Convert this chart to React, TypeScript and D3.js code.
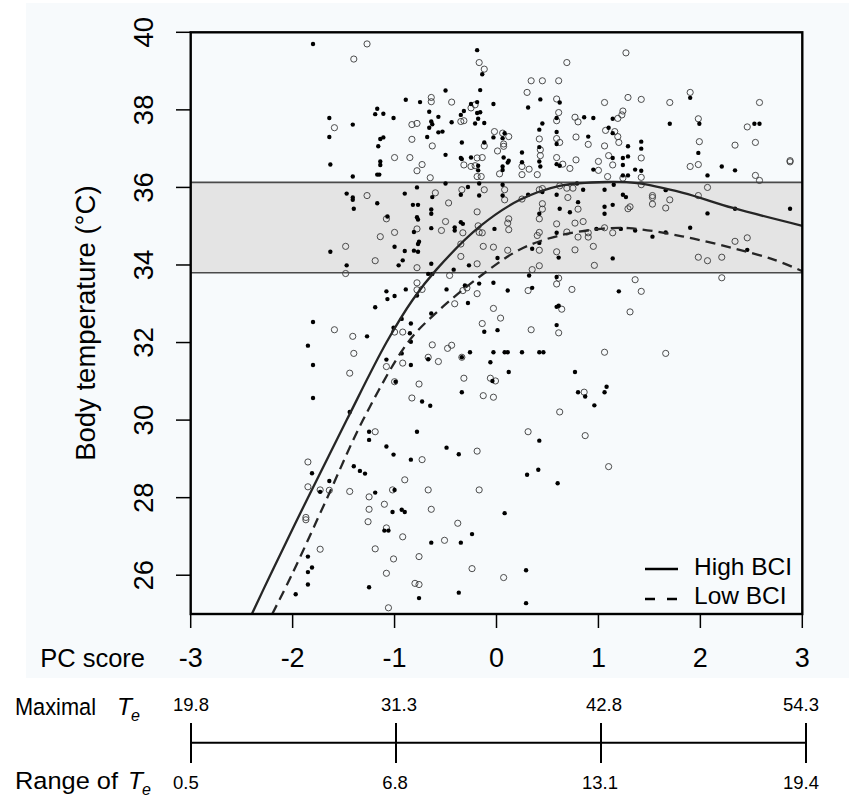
import React from 'react';
import * as d3 from 'd3';

const xTicks = [-3, -2, -1, 0, 1, 2, 3];
const yTicks = [26, 28, 30, 32, 34, 36, 38, 40];
const maximalTe = [19.8, 31.3, 42.8, 54.3];
const rangeTe = [0.5, 6.8, 13.1, 19.4];
const comfortBand = [33.8, 36.13];

const highPc = [-2.4, -2.22, -1.85, -1.47, -1.08, -0.82, -0.59, -0.16, 0.23, 0.62, 1.08, 1.38, 1.83, 2.32, 3.0];
const highTemp = [25.0, 26.0, 28.0, 30.0, 32.0, 33.11, 33.88, 35.0, 35.68, 36.04, 36.14, 36.11, 35.86, 35.47, 35.01];
const lowPc = [-2.2, -2.01, -1.66, -1.31, -0.87, -0.59, -0.16, 0.23, 0.59, 1.02, 1.3, 1.82, 2.31, 2.72, 3.0];
const lowTemp = [25.0, 26.0, 28.0, 30.0, 32.0, 32.77, 33.71, 34.4, 34.74, 34.93, 34.95, 34.74, 34.44, 34.14, 33.84];

const filledPoints: [number, number][] = [
  [-1.80,39.70],[-0.89,38.26],[-0.75,38.20],[-1.17,38.03],[-1.19,37.89],[-1.11,37.90],[-1.01,37.79],[-1.64,37.79],[-0.66,37.95],[-0.57,37.82],[-0.64,37.70],[-0.63,37.63],[-0.66,37.54],[-1.41,37.62],[-1.64,37.30],[-1.14,37.25],[-1.11,37.29],[-0.68,37.30],[-0.57,37.42],[-1.16,37.06],[-1.63,36.59],[-1.14,36.67],[-1.14,36.58],[-1.17,36.33],[-1.15,36.33],[-1.41,36.28],
  [-0.19,39.54],[-0.14,38.92],[-0.50,38.50],[-0.16,38.51],[0.43,38.27],[0.62,38.19],[-0.25,38.15],[-0.19,38.20],[-0.03,38.15],[0.31,38.06],[-0.32,37.97],[-0.35,37.87],[-0.19,37.92],[-0.16,37.94],[-0.44,37.68],[-0.21,37.65],[-0.18,37.77],[-0.12,37.66],[0.45,37.65],[0.59,37.79],[0.86,37.81],[0.95,37.79],[1.14,37.77],[-0.53,37.44],[0.42,37.49],[0.08,37.40],[-0.03,37.29],[0.06,37.27],[0.59,37.43],[1.10,37.54],[1.14,37.40],[0.90,37.31],[0.59,37.12],[-0.34,37.16],[-0.12,37.16],[1.29,37.06],[0.42,37.04],[-0.50,36.84],[-0.35,36.76],[-0.34,36.73],[-0.25,36.77],[0.07,36.77],[0.12,36.69],[0.11,36.64],[0.25,36.90],[0.42,36.67],[0.59,36.60],[0.62,36.56],[1.14,36.76],[1.24,36.76],[1.29,36.80],[1.24,36.58],[-0.18,36.56],[-0.18,36.44],[0.06,36.54],[0.06,36.45],[0.25,36.65],[0.43,36.54],[0.95,36.46],[1.24,36.31],[1.29,36.31],
  [1.90,38.31],[1.70,37.64],[1.99,37.64],[2.53,37.64],[2.58,37.64],[1.42,37.18],[1.42,37.00],[1.98,36.89],[2.21,36.54],[2.34,36.44],[2.07,36.31],[1.36,36.46],[1.42,36.43],[1.66,35.93],[2.07,35.33],[2.34,35.45],[2.88,35.45],[1.36,34.89],[1.53,34.73],[1.66,34.84],[1.90,34.96],[2.46,34.39],
  [-0.78,36.00],[-1.47,35.84],[-1.41,35.74],[-1.41,35.68],[-0.90,35.84],[-0.63,35.75],[-1.17,35.59],[-0.82,35.55],[-0.77,35.55],[-1.40,35.45],[-0.64,35.43],[-0.64,35.32],[-1.07,35.25],[-0.78,35.23],[-0.77,35.17],[-0.64,34.95],[-0.81,34.85],[-0.76,34.60],[-0.77,34.54],[-1.00,34.47],[-1.63,34.34],[-0.90,34.36],[-0.81,34.37],[-0.77,34.34],[-0.92,34.12],[-0.96,33.99],[-1.47,33.99],[-0.64,34.03],[-0.67,33.77],[-0.63,33.77],[-0.89,33.37],[-1.08,33.32],[-1.00,33.20],[-1.07,33.12],[-0.78,33.21],[-1.19,32.91],[-0.64,32.75],[-1.80,32.53],[-0.93,32.61],[-0.84,32.49],[-1.01,32.38],[-0.85,32.24],[-1.27,32.16],[-0.84,32.02],[-1.85,31.92],
  [-0.50,36.10],[-0.28,36.01],[-0.17,36.10],[-0.35,35.81],[-0.17,35.79],[0.06,36.07],[0.06,35.79],[0.31,35.81],[0.45,35.88],[0.79,36.10],[0.85,35.94],[1.06,35.94],[1.15,36.07],[1.24,35.81],[1.27,35.75],[0.59,35.81],[0.80,35.62],[0.62,35.45],[0.72,35.36],[1.06,35.50],[1.14,35.55],[1.06,35.32],[0.42,35.32],[-0.35,35.10],[-0.33,35.06],[-0.41,34.97],[-0.41,34.89],[-0.02,34.93],[0.59,34.83],[0.98,34.93],[1.22,34.93],[0.35,34.42],[0.42,34.57],[0.61,34.19],[1.14,34.17],[0.01,34.18],[-0.27,33.99],[-0.42,33.88],[0.32,33.73],[0.59,33.69],[-0.17,33.52],[-0.03,33.54],[-0.49,33.37],[-0.31,33.47],[0.11,33.34],[0.35,33.41],[1.20,33.32],[-0.28,33.02],[0.59,32.92],[0.61,32.95],[-0.12,32.28],[0.01,32.32],[0.59,32.45],
  [-1.80,31.42],[-1.80,30.57],[-1.44,30.21],[-1.08,31.56],[-0.84,31.42],[-0.93,31.72],[-0.99,30.99],[-0.73,30.48],[-0.65,30.37],[-0.67,31.57],[-1.25,29.70],[-1.25,29.49],[-1.08,29.32],[-1.01,29.11],[-0.78,29.70],[-0.84,28.98],[-0.49,29.29],[-1.81,28.63],[-1.64,28.43],[-1.73,28.15],[-1.40,28.81],[-1.34,28.69],[-1.29,28.62],[-1.19,28.13],[-1.00,28.20],[-1.02,27.63],[-0.93,27.69],[-0.90,27.63],[-1.10,27.15],[-1.06,27.15],[-0.64,26.84],[-0.76,25.41],[-1.25,25.69],[-1.85,26.48],[-1.81,26.20],[-1.85,26.08],[-1.85,25.76],[-1.97,25.51],
  [-0.26,31.75],[-0.34,31.62],[-0.03,31.75],[0.08,31.75],[0.11,31.75],[0.25,31.75],[0.42,31.75],[0.46,31.75],[-0.06,31.49],[0.12,31.24],[0.77,31.24],[-0.04,31.01],[-0.34,30.72],[0.80,30.72],[0.87,30.61],[1.08,30.86],[1.06,30.72],[0.96,30.38],[0.42,29.47],[-0.37,29.12],[0.30,28.59],[0.41,28.72],[0.60,28.37],[0.08,27.60],[-0.24,27.06],[-0.35,26.84],[0.29,26.13],[-0.37,25.55],[0.29,25.28],
];

const openPoints: [number, number][] = [
  [-1.27,39.70],[-1.40,39.31],[-0.64,38.32],[-0.64,38.21],[-0.83,37.62],[-0.78,37.65],[-1.59,37.54],[-0.83,37.24],[-0.63,37.07],[-1.00,36.77],[-0.85,36.77],[-0.73,36.59],[-0.78,36.43],[-0.65,36.25],
  [-0.17,39.22],[-0.12,39.05],[1.27,39.47],[0.69,39.22],[0.34,38.75],[0.45,38.75],[0.61,38.75],[0.30,38.45],[0.59,38.28],[-0.44,38.20],[-0.25,38.05],[-0.21,38.13],[1.06,38.19],[1.29,38.32],[0.61,37.93],[1.24,37.97],[1.23,37.87],[-0.35,37.70],[-0.32,37.72],[0.59,37.72],[0.77,37.81],[0.80,37.69],[1.19,37.78],[-0.02,37.44],[0.06,37.40],[0.12,37.31],[1.07,37.47],[1.16,37.44],[1.19,37.31],[0.78,37.30],[0.42,37.25],[0.59,37.26],[0.62,37.16],[-0.12,37.07],[0.07,37.12],[0.07,37.06],[0.90,37.11],[1.20,37.16],[1.06,37.07],[0.43,36.97],[0.01,36.94],[-0.19,36.76],[-0.14,36.77],[0.43,36.82],[0.59,36.77],[0.65,36.60],[0.78,36.71],[1.10,36.82],[1.14,36.58],[1.00,36.67],[-0.32,36.58],[-0.25,36.54],[-0.21,36.56],[-0.19,36.28],[-0.15,36.28],[0.03,36.35],[0.25,36.54],[0.32,36.47],[0.25,36.33],[0.40,36.33],[0.72,36.49],[1.00,36.44],[1.09,36.28],[1.24,36.24],
  [1.42,38.27],[1.70,38.19],[1.90,38.45],[2.58,38.19],[1.98,37.77],[2.46,37.56],[1.42,36.76],[1.99,37.18],[2.34,37.09],[2.54,37.16],[1.90,36.54],[1.98,36.59],[2.88,36.69],[2.88,36.66],[1.42,36.26],[2.54,36.31],[2.58,36.18],[1.42,36.07],[2.07,36.00],[1.53,35.79],[1.53,35.74],[1.53,35.57],[1.70,35.68],[1.66,35.47],[1.98,35.79],[1.31,35.50],[2.34,34.61],[2.46,34.70],[1.98,34.20],[2.07,34.11],[2.21,34.20],[2.21,33.67],[1.36,33.62],[1.42,33.32],[1.31,32.79],
  [-1.27,35.79],[-0.60,35.86],[-1.08,35.19],[-0.78,34.93],[-1.00,34.84],[-1.14,34.73],[-1.48,34.48],[-1.19,34.11],[-0.78,33.93],[-1.48,33.78],[-0.78,33.54],[-0.78,33.36],[-0.73,33.37],[-1.00,32.27],[-0.92,32.27],[-1.59,32.33],[-1.41,32.16],[-0.63,31.94],
  [-0.34,35.94],[-0.12,35.94],[0.08,35.94],[0.08,35.68],[0.42,35.94],[0.45,35.97],[0.62,36.04],[0.69,35.98],[0.75,35.98],[1.29,35.45],[-0.47,35.60],[0.25,35.70],[0.70,35.74],[0.45,35.58],[0.45,35.44],[0.80,35.44],[-0.19,35.37],[0.42,35.19],[0.12,35.19],[0.11,35.08],[-0.50,35.12],[0.59,35.06],[0.77,35.08],[0.85,35.12],[-0.18,35.01],[-0.54,34.89],[-0.33,34.83],[0.12,34.91],[-0.17,34.84],[-0.14,34.83],[0.42,34.84],[0.40,34.76],[0.69,34.85],[0.90,34.83],[0.90,34.72],[0.80,34.72],[1.14,34.83],[1.06,34.96],[-0.35,34.54],[-0.13,34.48],[-0.03,34.46],[0.11,34.38],[0.42,34.38],[0.59,34.34],[0.77,34.39],[0.95,34.48],[-0.35,34.22],[-0.19,34.03],[0.35,33.88],[0.42,33.98],[0.96,33.99],[-0.46,33.73],[0.61,33.66],[0.59,33.51],[-0.33,33.34],[-0.29,33.41],[0.31,33.34],[0.74,33.37],[-0.19,33.26],[-0.41,33.00],[-0.03,32.88],[0.64,32.86],[0.04,32.63],[-0.14,32.49],[0.34,32.33],[0.61,32.25],[-0.44,31.93],[-0.48,31.85],
  [-1.40,31.72],[-1.44,31.21],[-1.08,31.38],[-0.92,31.47],[-1.00,30.99],[-0.76,30.93],[-0.83,30.57],[-0.67,31.62],[-0.57,31.51],[-1.19,29.70],[-0.73,28.98],[-1.85,28.92],[-1.85,28.28],[-1.73,28.20],[-1.64,28.19],[-1.44,28.16],[-1.25,28.02],[-1.25,27.70],[-1.26,27.38],[-1.19,26.68],[-1.10,27.83],[-1.02,28.20],[-0.90,28.46],[-0.67,28.20],[-0.64,27.70],[-1.08,27.22],[-0.92,26.99],[-0.51,26.90],[-1.01,26.42],[-0.76,26.48],[-1.08,26.05],[-0.80,25.79],[-0.76,25.76],[-1.06,25.16],[-1.87,27.49],[-1.87,27.43],[-1.73,26.67],
  [-0.34,31.62],[1.06,31.75],[1.66,31.72],[-0.32,31.08],[-0.06,31.08],[-0.01,31.01],[-0.13,30.63],[-0.03,30.59],[0.86,30.72],[0.62,30.21],[0.31,29.70],[0.87,29.60],[-0.19,29.20],[1.10,28.80],[-0.17,28.20],[-0.38,27.34],[-0.24,26.17],[0.07,25.94],
];

const FONT = '"Liberation Sans", Arial, Helvetica, sans-serif';

export default function App() {
  const W = 849, H = 799;
  const L = 190.7, R = 802.3, T = 32.3, B = 614;
  const x = d3.scaleLinear().domain([-3, 3]).range([L, R]);
  const y = d3.scaleLinear().domain([25, 40]).range([B, T]);
  const xMax = d3.scaleLinear().domain([maximalTe[0], maximalTe[maximalTe.length - 1]]).range([191, 806]);
  const xRange = d3.scaleLinear().domain([rangeTe[0], rangeTe[rangeTe.length - 1]]).range([191, 806]);

  const line = d3.line<[number, number]>().x(d => x(d[0])).y(d => y(d[1])).curve(d3.curveCatmullRom.alpha(0.5));
  const highPath = line(highPc.map((p, i) => [p, highTemp[i]] as [number, number])) || '';
  const lowPath = line(lowPc.map((p, i) => [p, lowTemp[i]] as [number, number])) || '';

  const axisY = 742.7;

  return (
    <svg width={W} height={H} viewBox={`0 0 ${W} ${H}`}
      style={{ position: 'absolute', left: 0, top: 0, display: 'block', background: '#ffffff' }}
      fontFamily={FONT}>
      <rect x={26} y={3} width={W - 26} height={675} fill="#f7fafc" />
      <defs>
        <clipPath id="plotClip">
          <rect x={L} y={T} width={R - L} height={B - T} />
        </clipPath>
      </defs>
      {/* comfort band */}
      <rect x={L} y={y(comfortBand[1])} width={R - L} height={y(comfortBand[0]) - y(comfortBand[1])}
        fill="#e4e4e4" stroke="none" />
      <line x1={L} x2={R} y1={y(comfortBand[1])} y2={y(comfortBand[1])} stroke="#4a4a4a" strokeWidth={1.6} />
      <line x1={L} x2={R} y1={y(comfortBand[0])} y2={y(comfortBand[0])} stroke="#4a4a4a" strokeWidth={1.6} />

      {/* points */}
      <g>
        {openPoints.map((d, i) => (
          <circle key={'o' + i} cx={x(d[0])} cy={y(d[1])} r={3.1} fill="none" stroke="#3a3a3a" strokeWidth={0.9} />
        ))}
        {filledPoints.map((d, i) => (
          <circle key={'f' + i} cx={x(d[0])} cy={y(d[1])} r={2.2} fill="#000" />
        ))}
      </g>

      {/* curves */}
      <g clipPath="url(#plotClip)">
        <path d={highPath} fill="none" stroke="#262626" strokeWidth={2.3} />
        <path d={lowPath} fill="none" stroke="#262626" strokeWidth={2.3} strokeDasharray="10 6" />
      </g>

      {/* frame */}
      <rect x={L} y={T} width={R - L} height={B - T} fill="none" stroke="#000" strokeWidth={2.4} />

      {/* y axis */}
      {yTicks.map(t => (
        <g key={'yt' + t}>
          <line x1={176} x2={L} y1={y(t)} y2={y(t)} stroke="#000" strokeWidth={1.5} />
          <text transform={`translate(153,${y(t)}) rotate(-90)`} textAnchor="middle" fontSize={27.5} fill="#000">{t}</text>
        </g>
      ))}
      <text transform={`translate(95,${(T + B) / 2}) rotate(-90)`} textAnchor="middle" fontSize={27.5} fill="#000">
        Body temperature (°C)
      </text>

      {/* x axis */}
      {xTicks.map(t => (
        <g key={'xt' + t}>
          <line x1={x(t)} x2={x(t)} y1={B} y2={628} stroke="#000" strokeWidth={1.5} />
          <text x={x(t)} y={667} textAnchor="middle" fontSize={27} fill="#000">{t}</text>
        </g>
      ))}
      <text x={145} y={667} textAnchor="end" fontSize={25.5} fill="#000">PC score</text>

      {/* legend */}
      <line x1={645} x2={678} y1={569} y2={569} stroke="#000" strokeWidth={2.3} />
      <line x1={645} x2={678} y1={599} y2={599} stroke="#000" strokeWidth={2.3} strokeDasharray="10 12" />
      <text x={694} y={575} fontSize={24.5} fill="#000">High BCI</text>
      <text x={694} y={604} fontSize={24.5} fill="#000">Low BCI</text>

      {/* secondary axes */}
      <text x={15} y={715} fontSize={24.5} fill="#000" textLength={81} lengthAdjust="spacingAndGlyphs">Maximal</text>
      <text x={117} y={715} fontSize={24.5} fill="#000" fontStyle="italic">T</text>
      <text x={131} y={721} fontSize={16} fill="#000" fontStyle="italic">e</text>
      <text x={15} y={789} fontSize={24.5} fill="#000" textLength={103} lengthAdjust="spacingAndGlyphs">Range of</text>
      <text x={128} y={789} fontSize={24.5} fill="#000" fontStyle="italic">T</text>
      <text x={142} y={795} fontSize={16} fill="#000" fontStyle="italic">e</text>

      <line x1={xMax(maximalTe[0])} x2={xMax(maximalTe[maximalTe.length - 1])} y1={axisY} y2={axisY} stroke="#000" strokeWidth={2} />
      {maximalTe.map((v, i) => (
        <line key={'bt' + i} x1={xMax(v)} x2={xMax(v)} y1={723} y2={763} stroke="#000" strokeWidth={2} />
      ))}
      {maximalTe.map((v, i) => {
        const last = i === maximalTe.length - 1;
        const first = i === 0;
        const px = first ? xMax(v) - 18 : last ? xMax(v) + 13 : xMax(v) + 3;
        return (
          <text key={'mt' + i} x={px} y={711} fontSize={18.5} fill="#000"
            textAnchor={first ? 'start' : last ? 'end' : 'middle'}>{v.toFixed(1)}</text>
        );
      })}
      {rangeTe.map((v, i) => {
        const last = i === rangeTe.length - 1;
        const first = i === 0;
        const px = first ? xRange(v) - 18 : last ? xRange(v) + 13 : xRange(v) - 1;
        return (
          <text key={'rt' + i} x={px} y={789} fontSize={18.5} fill="#000"
            textAnchor={first ? 'start' : last ? 'end' : 'middle'}>{v.toFixed(1)}</text>
        );
      })}
    </svg>
  );
}
